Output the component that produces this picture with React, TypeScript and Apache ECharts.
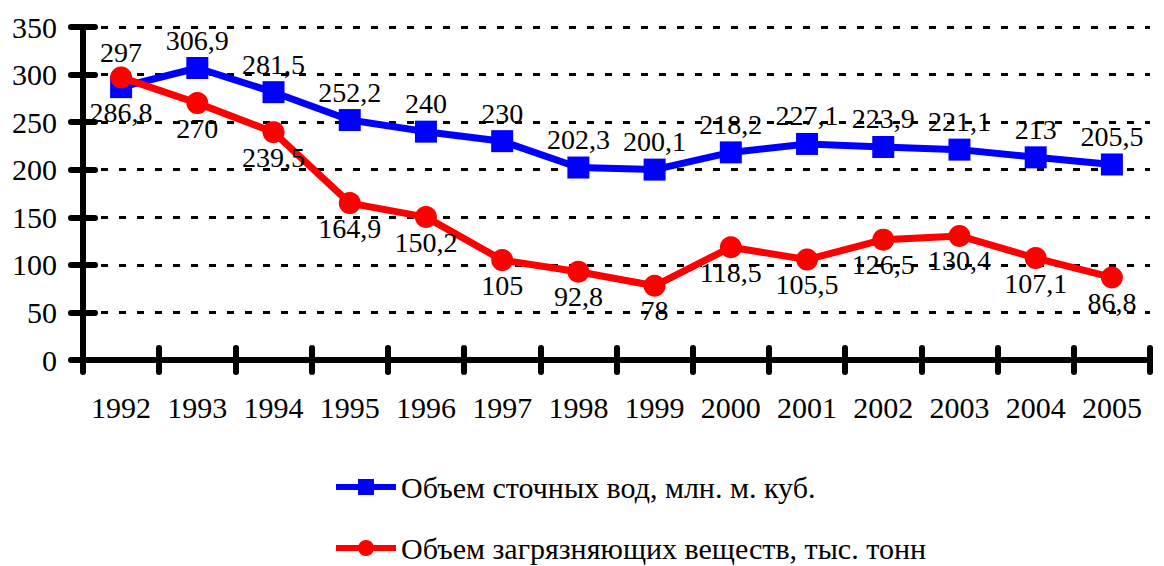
import React, { useEffect, useRef } from "react";
import * as echarts from "echarts";

const years = ["1992", "1993", "1994", "1995", "1996", "1997", "1998", "1999", "2000", "2001", "2002", "2003", "2004", "2005"];
const wastewater = [286.8, 306.9, 281.5, 252.2, 240, 230, 202.3, 200.1, 218.2, 227.1, 223.9, 221.1, 213, 205.5];
const pollutants = [297, 270, 239.5, 164.9, 150.2, 105, 92.8, 78, 118.5, 105.5, 126.5, 130.4, 107.1, 86.8];
const seriesNames = ["Объем сточных вод, млн. м. куб.", "Объем загрязняющих веществ, тыс. тонн"];
const yMin = 0;
const yMax = 350;
const yStep = 50;

const FONT = "Liberation Serif";

const fmt = (v: number) => String(v).replace(".", ",");

export default function App() {
  const ref = useRef<HTMLDivElement>(null);
  useEffect(() => {
    if (!ref.current) return;
    const chart = echarts.init(ref.current, undefined, { renderer: "svg" });
    const labelBase = {
      show: true,
      fontFamily: FONT,
      fontSize: 28,
      color: "#000",
      formatter: (p: any) => fmt(p.value),
    };
    const blueData = wastewater.map((v, i) => ({
      value: v,
      label: i === 0 ? { position: "bottom", distance: 0 } : { position: "top", distance: 3 },
    }));
    const redData = pollutants.map((v, i) => ({
      value: v,
      label: i === 0 ? { position: "top", distance: 0 } : { position: "bottom", distance: 0 },
    }));
    chart.setOption({
      animation: false,
      backgroundColor: "#fff",
      textStyle: { fontFamily: FONT },
      grid: { left: 83, right: 14, top: 27, bottom: 206, containLabel: false },
      legend: {
        orient: "vertical",
        left: 328,
        top: 467,
        height: 130,
        itemWidth: 60,
        itemHeight: 20,
        itemGap: 31,
        lineStyle: { width: 6 },
        textStyle: { fontFamily: FONT, fontSize: 30, color: "#000" },
        data: seriesNames,
      },
      xAxis: [
        {
          type: "category",
          data: years,
          boundaryGap: true,
          axisLine: { show: true, lineStyle: { color: "#000", width: 6, cap: "round" } },
          axisTick: { show: true, inside: false, length: 12, lineStyle: { color: "#000", width: 6, cap: "round" } },
          axisLabel: { fontFamily: FONT, fontSize: 30, color: "#000", margin: 32, interval: 0 },
          splitLine: { show: false },
        },
        {
          type: "category",
          data: years,
          position: "bottom",
          boundaryGap: true,
          axisLine: { show: false },
          axisTick: { show: true, inside: true, length: 12, lineStyle: { color: "#000", width: 6, cap: "round" } },
          axisLabel: { show: false },
          splitLine: { show: false },
        },
      ],
      yAxis: [
        {
          type: "value",
          min: yMin,
          max: yMax,
          interval: yStep,
          axisLine: { show: true, lineStyle: { color: "#000", width: 6, cap: "round" } },
          axisTick: { show: true, inside: false, length: 12, lineStyle: { color: "#000", width: 6, cap: "round" } },
          axisLabel: { fontFamily: FONT, fontSize: 30, color: "#000", margin: 26 },
          splitLine: { show: true, lineStyle: { color: "#000", width: 3, type: [7, 11] } },
        },
        {
          type: "value",
          position: "left",
          min: yMin,
          max: yMax,
          interval: yStep,
          axisLine: { show: false },
          axisTick: { show: true, inside: true, length: 12, lineStyle: { color: "#000", width: 6, cap: "round" } },
          axisLabel: { show: false },
          splitLine: { show: false },
        },
      ],
      series: [
        {
          name: seriesNames[0],
          type: "line",
          data: blueData,
          symbol: "rect",
          symbolSize: 22,
          color: "#0000FF",
          lineStyle: { color: "#0000FF", width: 7 },
          itemStyle: { color: "#0000FF" },
          label: { ...labelBase },
          labelLayout: { hideOverlap: false },
          z: 3,
        },
        {
          name: seriesNames[1],
          type: "line",
          data: redData,
          symbol: "circle",
          symbolSize: 22,
          color: "#FF0000",
          lineStyle: { color: "#FF0000", width: 7 },
          itemStyle: { color: "#FF0000" },
          label: { ...labelBase },
          labelLayout: { hideOverlap: false },
          z: 4,
        },
      ],
    });
    return () => chart.dispose();
  }, []);
  return <div ref={ref} style={{ width: 1164, height: 566, position: "absolute", left: 0, top: 0 }} />;
}
